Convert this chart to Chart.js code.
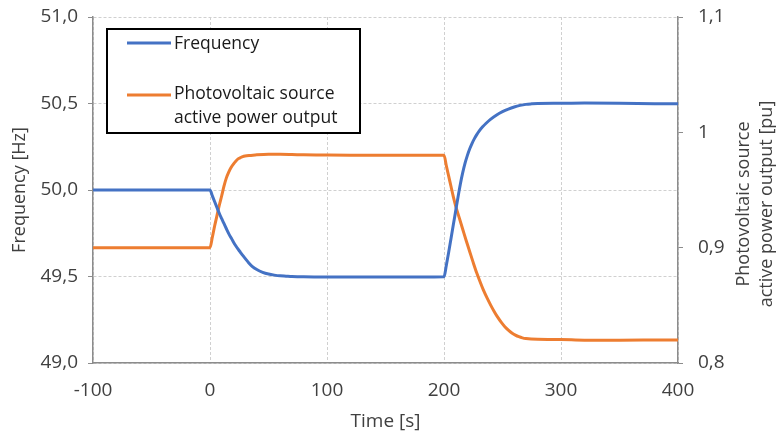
<!doctype html>
<html>

<head>
    <title>Frequency and PV active power</title>
    <script src="https://cdn.jsdelivr.net/npm/chart.js@4/dist/chart.umd.min.js"></script>
    <style>
    html, body{
        margin: 0;
        padding: 0;
        background: #fff;
    }
    </style>
</head>

<body>
    <canvas id="chart-area" width="777" height="435"></canvas>
    <script>
    // frequency [Hz] over time [s]
    var freqTime = [-100, 0, 2, 4, 6, 8, 10, 12, 14, 16, 18, 20, 22, 24, 26, 28, 30, 33, 36, 40, 45, 50, 55, 60, 65, 70,
        80, 100, 120, 150, 180, 200,
        202, 204, 206, 208, 210, 212, 214, 216, 218, 220, 222, 224, 226, 228, 230, 233, 236, 240, 245, 250, 255,
        260, 265, 270, 275, 280, 300, 320, 350, 380, 400];
    var frequency = [50.0, 50.0, 49.966, 49.932, 49.898, 49.864, 49.834, 49.805, 49.776, 49.748, 49.724, 49.70, 49.678,
        49.658, 49.64, 49.622, 49.605, 49.58, 49.559, 49.54, 49.524, 49.514, 49.508, 49.504, 49.502, 49.50,
        49.498, 49.497, 49.497, 49.497, 49.497, 49.498,
        49.565, 49.64, 49.72, 49.80, 49.88, 49.96, 50.035, 50.10, 50.155, 50.20, 50.238, 50.27, 50.297, 50.32,
        50.34, 50.365, 50.386, 50.41, 50.434, 50.453, 50.468,
        50.48, 50.489, 50.495, 50.498, 50.50, 50.501, 50.503, 50.502, 50.499, 50.498];
    // PV active power [pu] over time [s]
    var pvTime = [-100, 0, 2, 4, 6, 8, 10, 12, 14, 16, 18, 20, 22, 24, 26, 28, 30, 35, 40, 50, 60, 70, 80,
        100, 120, 150, 180, 200,
        202, 204, 206, 208, 210, 213, 216, 219, 222, 225, 228, 231, 234, 237, 240, 243, 246, 249, 252, 255,
        258, 261, 264, 267, 270, 280, 300, 320, 350, 380, 400];
    var pvPower = [0.9, 0.9, 0.909, 0.919, 0.928, 0.937, 0.945, 0.9535, 0.9605, 0.9655, 0.9695, 0.9725, 0.975, 0.977,
        0.978, 0.979, 0.9795, 0.980, 0.9805, 0.981, 0.981, 0.9808, 0.9805,
        0.9803, 0.9802, 0.9802, 0.9802, 0.9802,
        0.971, 0.962, 0.953, 0.944, 0.936, 0.926, 0.916, 0.906, 0.8965, 0.887, 0.878, 0.870, 0.8625, 0.856, 0.850,
        0.8445, 0.8395, 0.8352, 0.8315, 0.8285,
        0.826, 0.8242, 0.8228, 0.8218, 0.8212, 0.8205, 0.8203, 0.8198, 0.8198, 0.8199, 0.8200];

    var seriesNames = ['Frequency', 'Photovoltaic source active power output'];
    var legendLines = [['Frequency'], ['Photovoltaic source', 'active power output']];
    var leftTitle = 'Frequency [Hz]';
    var rightTitle = ['Photovoltaic source', 'active power output [pu]'];
    var xTitle = 'Time [s]';

    var blue = '#4472C4';
    var orange = '#ED7D31';
    var FONT = '"Open Sans", sans-serif';
    var TEXT = '#404040';

    function toPoints(xs, ys){
        return xs.map(function (x, i){ return {x: x, y: ys[i]}; });
    }
    function comma(v){
        return String(v).replace('.', ',');
    }

    // legend box (multi-line labels) and the right axis title read bottom-to-top
    var extras = {
        id: 'extras',
        afterDraw: function (chart){
            var ctx = chart.ctx;
            ctx.save();
            // legend
            ctx.fillStyle = '#fff';
            ctx.fillRect(107, 29, 253, 104);
            ctx.strokeStyle = '#000';
            ctx.lineWidth = 2;
            ctx.strokeRect(107, 29, 253, 104);
            var rows = [[43, 44], [95, 94, 118]];
            chart.data.datasets.forEach(function (ds, i){
                ctx.strokeStyle = ds.borderColor;
                ctx.lineWidth = 3;
                ctx.beginPath();
                ctx.moveTo(127, rows[i][0]);
                ctx.lineTo(171, rows[i][0]);
                ctx.stroke();
                ctx.fillStyle = '#1a1a1a';
                ctx.font = '17.5px ' + FONT;
                ctx.textBaseline = 'middle';
                ctx.textAlign = 'left';
                legendLines[i].forEach(function (line, j){
                    ctx.fillText(line, 174, rows[i][j + 1]);
                });
            });
            // right title
            ctx.fillStyle = TEXT;
            ctx.font = '18px ' + FONT;
            ctx.textAlign = 'center';
            ctx.textBaseline = 'middle';
            var xs = [744, 767];
            rightTitle.forEach(function (t, j){
                ctx.save();
                ctx.translate(xs[j], 204);
                ctx.rotate(-Math.PI / 2);
                ctx.fillText(t, 0, 0);
                ctx.restore();
            });
            ctx.restore();
        }
    };

    function noPad(s){
        s.paddingTop = 0;
        s.paddingBottom = 0;
    }

    var config = {
        type: 'line',
        data: {
            datasets: [{
                label: seriesNames[0],
                data: toPoints(freqTime, frequency),
                borderColor: blue,
                backgroundColor: blue,
                borderWidth: 3,
                pointRadius: 0,
                cubicInterpolationMode: 'monotone',
                yAxisID: 'y'
            },{
                label: seriesNames[1],
                data: toPoints(pvTime, pvPower),
                borderColor: orange,
                backgroundColor: orange,
                borderWidth: 3,
                pointRadius: 0,
                cubicInterpolationMode: 'monotone',
                yAxisID: 'y1'
            }]
        },
        options: {
            responsive: false,
            animation: false,
            layout: { padding: { top: 17 } },
            plugins: {
                legend: { display: false },
                tooltip: { enabled: false }
            },
            scales: {
                x: {
                    type: 'linear',
                    min: -100,
                    max: 400,
                    afterFit: function (s){ s.height = 72; },
                    ticks: { stepSize: 100, padding: 16, color: TEXT, font: { family: FONT, size: 19 } },
                    grid: { color: '#d0d0d0', drawTicks: false },
                    border: { color: '#8c8c8c', width: 1.5, dash: [3, 2] },
                    title: { display: true, text: xTitle, color: TEXT, font: { family: FONT, size: 19 }, padding: { top: 0, bottom: 2 } }
                },
                y: {
                    position: 'left',
                    min: 49,
                    max: 51,
                    afterFit: function (s){ s.width = 93; noPad(s); },
                    ticks: { stepSize: 0.5, padding: 10, color: TEXT, font: { family: FONT, size: 19 },
                        callback: function (v){ return comma(v.toFixed(1)); } },
                    grid: { color: '#d0d0d0', tickColor: '#8c8c8c', tickLength: 5 },
                    border: { color: '#8c8c8c', width: 1.5, dash: [3, 2] },
                    title: { display: true, text: leftTitle, color: TEXT, font: { family: FONT, size: 18 }, padding: { top: 9, bottom: 0 } }
                },
                y1: {
                    position: 'right',
                    min: 0.8,
                    max: 1.1,
                    afterFit: function (s){ s.width = 99; noPad(s); },
                    afterBuildTicks: function (s){
                        s.ticks = [0.8, 0.9, 1, 1.1].map(function (v){ return {value: v}; });
                    },
                    ticks: { padding: 15, color: TEXT, font: { family: FONT, size: 19 },
                        callback: function (v){ return comma(Math.round(v * 10) / 10); } },
                    grid: { drawOnChartArea: false, tickColor: '#8c8c8c', tickLength: 5 },
                    border: { color: '#8c8c8c', width: 1.5 }
                }
            }
        },
        plugins: [extras]
    };

    window.onload = function() {
        var ctx = document.getElementById("chart-area").getContext("2d");
        window.myChart = new Chart(ctx, config);
    };
    </script>
</body>

</html>
